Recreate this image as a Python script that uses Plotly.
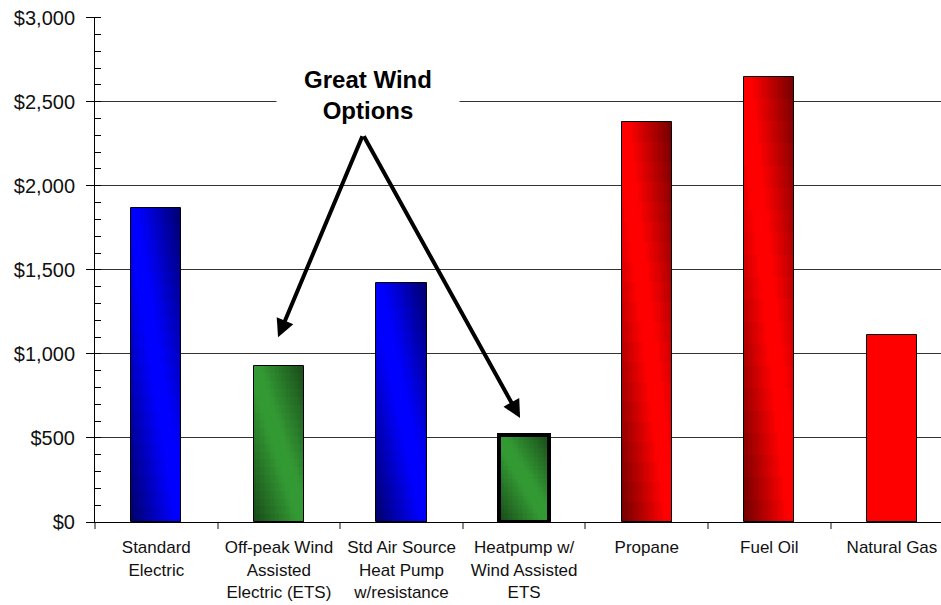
import plotly.graph_objects as go

categories = ["Standard<br>Electric", "Off-peak Wind<br>Assisted<br>Electric (ETS)",
              "Std Air Source<br>Heat Pump<br>w/resistance", "Heatpump w/<br>Wind Assisted<br>ETS",
              "Propane", "Fuel Oil", "Natural Gas"]
costs = [1870, 930, 1420, 515, 2380, 2650, 1110]
bright_colors = [(0, 0, 255), (51, 153, 51), (0, 0, 255), (51, 153, 51), (255, 0, 0), (255, 0, 0), (255, 0, 0)]
dark_colors = [(0, 0, 105), (24, 72, 24), (0, 0, 105), (24, 72, 24), (112, 0, 0), (112, 0, 0), (255, 0, 0)]
border_widths = [1, 1, 1, 4, 1, 1, 1]

BAR_W = 0.41
NX, NY = 20, 20

fig = go.Figure()


def mix(c1, c2, t):
    return "rgb(%d,%d,%d)" % tuple(round(a * (1 - t) + b * t) for a, b in zip(c1, c2))


for j in range(NY):
    v = (j + 0.5) / NY
    for k in range(NX):
        u = (k + 0.5) / NX
        t = abs(u + v - 1.0)
        t = min(max((t - 0.12) / 0.88, 0.0), 1.0)
        cols = [mix(b, d, t) for b, d in zip(bright_colors, dark_colors)]
        frac_h = 1.0 / NY + (0.004 if j < NY - 1 else 0.0)
        fig.add_trace(go.Bar(
            x=categories,
            y=[c * frac_h for c in costs],
            base=[c * j / NY for c in costs],
            width=BAR_W / NX * (1.2 if k < NX - 1 else 1.0),
            offset=-BAR_W / 2 + k * BAR_W / NX,
            marker=dict(color=cols, line=dict(width=0)),
            hoverinfo="skip", showlegend=False,
        ))

fig.add_trace(go.Bar(
    x=categories, y=costs, width=BAR_W, offset=-BAR_W / 2,
    marker=dict(color="rgba(0,0,0,0)", line=dict(color="black", width=border_widths)),
    showlegend=False,
))

font_family = "Liberation Sans, Arial, sans-serif"

fig.add_annotation(
    x=1.727, y=2541, xref="x", yref="y",
    text="<b>Great Wind<br>Options</b>", showarrow=False,
    font=dict(family=font_family, size=24, color="black"),
    bgcolor="white", width=180, align="center",
)
for hx, hy in [(0.993, 1099), (2.967, 618)]:
    fig.add_annotation(
        x=hx, y=hy, xref="x", yref="y", ax=1.686, ay=2304, axref="x", ayref="y",
        text="", showarrow=True, arrowhead=2, arrowsize=0.9, arrowwidth=4,
        arrowcolor="black", standoff=0,
    )

fig.update_layout(
    width=941, height=605,
    margin=dict(l=95, r=0, t=17, b=83),
    paper_bgcolor="white", plot_bgcolor="white",
    barmode="overlay", bargap=0,
    font=dict(family=font_family, color="black"),
)
fig.update_xaxes(
    range=[-0.5, 6.4], tickson="boundaries", ticks="outside", ticklen=6, tickcolor="#888",
    tickwidth=2, showline=True, linecolor="black", linewidth=1, showgrid=False,
    ticklabelstandoff=10,
    tickfont=dict(size=17, family=font_family, color="#111"),
)
fig.update_yaxes(
    range=[0, 3004], tick0=0, dtick=500, tickprefix="$", showtickprefix="all", tickformat=",",
    ticks="outside", ticklen=8, tickcolor="black", showline=True, linecolor="black", linewidth=1,
    showgrid=True, gridcolor="#333", gridwidth=1, zeroline=False,
    ticklabelstandoff=7,
    minor=dict(tick0=0, dtick=100, ticks="inside", ticklen=6, tickcolor="black", showgrid=False),
    tickfont=dict(size=20, family=font_family, color="#111"),
)

fig.write_html("out.html", config={"displayModeBar": False},
               post_script="document.body.style.margin='0';document.body.style.overflow='hidden';")
